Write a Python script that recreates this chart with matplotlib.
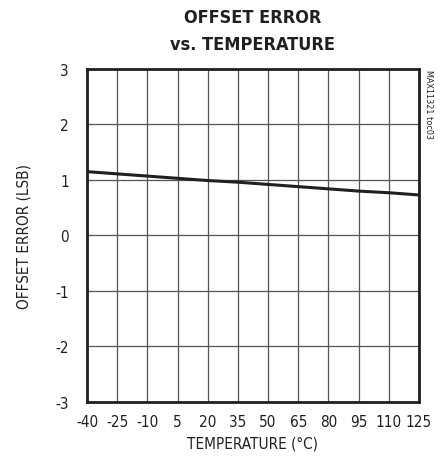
import matplotlib
matplotlib.use("Agg")
import matplotlib.pyplot as plt

plt.rcParams['font.family'] = ['DejaVu Sans']
plt.rcParams['font.stretch'] = 'condensed'
plt.rcParams['axes.unicode_minus'] = False

# data
temperature = [-40, -25, -10, 5, 20, 35, 50, 65, 80, 95, 110, 125]
offset_error = [1.15, 1.11, 1.07, 1.03, 0.99, 0.96, 0.92, 0.88, 0.84, 0.80, 0.77, 0.73]
x_ticks = [-40, -25, -10, 5, 20, 35, 50, 65, 80, 95, 110, 125]
y_ticks = [-3, -2, -1, 0, 1, 2, 3]

fig = plt.figure(figsize=(4.45, 4.64), dpi=100)
ax = fig.add_axes([0.1955, 0.1315, 0.746, 0.7177])

ax.plot(temperature, offset_error, color='#231f20', lw=2.2)

ax.set_xlim(-40, 125)
ax.set_ylim(-3, 3)
ax.set_xticks(x_ticks)
ax.set_yticks(y_ticks)
ax.grid(True, color='#555555', lw=0.9)
ax.tick_params(length=0, labelsize=11, colors='#231f20')
ax.tick_params(axis='x', pad=9)
ax.tick_params(axis='y', pad=13)
for s in ax.spines.values():
    s.set_linewidth(2)
    s.set_color('#231f20')

ax.set_xlabel('TEMPERATURE (°C)', fontsize=11, color='#231f20', labelpad=4)
ax.set_ylabel('OFFSET ERROR (LSB)', fontsize=11, color='#231f20', labelpad=17)

fig.text(0.568, 0.962, 'OFFSET ERROR', ha='center', va='center',
         fontsize=13, fontweight='bold', color='#231f20')
fig.text(0.568, 0.903, 'vs. TEMPERATURE', ha='center', va='center',
         fontsize=13, fontweight='bold', color='#231f20')
fig.text(0.962, 0.849, 'MAX11321 toc03', rotation=270, ha='center', va='top',
         fontsize=6.5, color='#231f20')

fig.savefig('out.png', dpi=100)
